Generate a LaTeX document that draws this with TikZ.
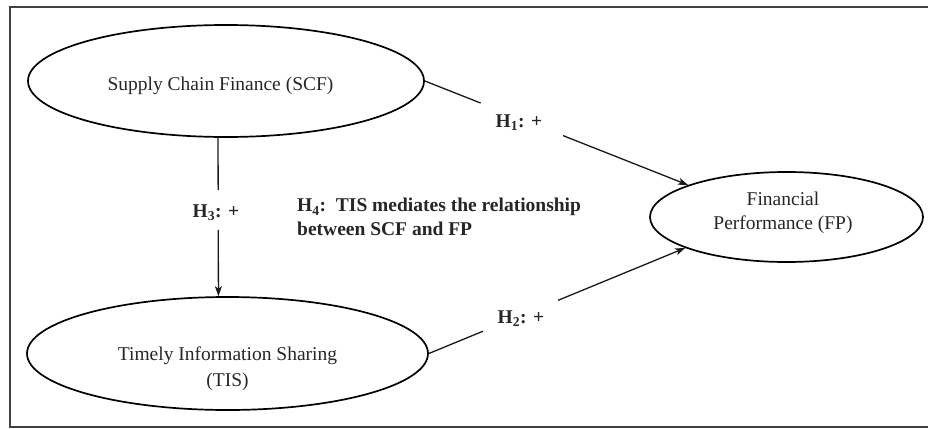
\documentclass[tikz,border=0pt]{standalone}
\usepackage{fontspec}
\setmainfont{Liberation Serif}
\usetikzlibrary{shapes.geometric,arrows.meta}
\begin{document}
\begin{tikzpicture}[x=1pt,y=-1pt,
  construct/.style={draw, ellipse, line width=1.7pt, inner sep=0pt},
  ctext/.style={font=\fontsize{19.5}{24.5}\selectfont, align=center, inner sep=0pt, text=black!85},
  hyp/.style={font=\fontsize{19.5}{23.5}\selectfont\bfseries, inner sep=0pt, text=black!85},
  link/.style={line width=1.3pt, black!90},
  arr/.style={link, -{Stealth[length=10pt,width=7pt,inset=2.5pt]}},
  frame/.style={line width=1.3pt, black!75}
]
\useasboundingbox (0,0) rectangle (928,428);
% outer frame
\draw[frame] (928,7) -- (10,7) -- (10,427) -- (928,427);

% constructs
\node[construct, minimum width=396pt, minimum height=112pt] (scf) at (226,81) {};
\node[construct, minimum width=401pt, minimum height=113pt] (tis) at (227.5,353.5) {};
\node[construct, minimum width=273pt, minimum height=90pt] (fp) at (786.5,217) {};

\node[ctext] (scft) at (220.5,86) {Supply Chain Finance (SCF)};
\node[ctext, font=\fontsize{19.5}{26}\selectfont] (tist) at (227.5,369) {Timely Information Sharing\\(TIS)};
\node[ctext] (fpt) at (783,213) {Financial\\Performance (FP)};

% hypothesis labels
\node[hyp] (h1) at (519,123) {H$_{\mathbf{1}}$: +};
\node[hyp] (h2) at (521,319) {H$_{\mathbf{2}}$: +};
\node[hyp] (h3) at (216,213) {H$_{\mathbf{3}}$: +};
\node[hyp, anchor=west, align=left] (h4) at (297,217) {H$_{\mathbf{4}}$:\ \ TIS mediates the relationship\\between SCF and FP};

% H1: SCF -> FP
\path (scf.east) -- coordinate[pos=0.212] (h1a) coordinate[pos=0.525] (h1b) (fp.162);
\draw[link] (scf.east) -- (h1a);
\draw[arr] (h1b) -- (fp.162);

% H2: TIS -> FP
\path (tis.east) -- coordinate[pos=0.211] (h2a) coordinate[pos=0.504] (h2b) (fp.197);
\draw[link] (tis.east) -- (h2a);
\draw[arr] (h2b) -- (fp.197);

% H3: SCF -> TIS
\path (scf.-98) -- coordinate[pos=0.331] (h3a) coordinate[pos=0.581] (h3b) (tis.99);
\draw[link] (scf.-98) -- (h3a);
\draw[arr] (h3b) -- (tis.99);
\end{tikzpicture}
\end{document}
